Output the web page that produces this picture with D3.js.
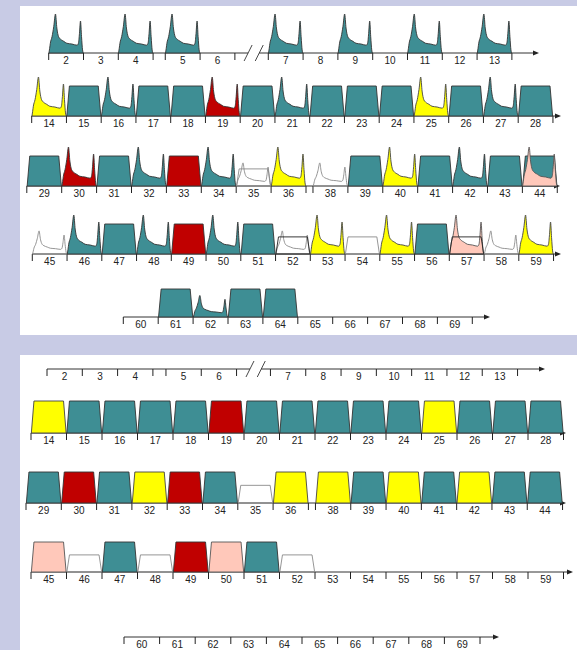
<!DOCTYPE html>
<meta charset="utf-8">
<style>
body { margin: 0; background: #c8cbe5; }
svg { display: block; }
.lbl { font: 10px "Liberation Sans Narrow", "Liberation Sans", sans-serif; fill: #222; text-anchor: middle; }
</style>
<svg width="577" height="650"></svg>
<script src="https://cdn.jsdelivr.net/npm/d3@7"></script>
<script>

// what sits on each numbered slot
// fill letter: T teal, R red, Y yellow, P pink, W white (grey line), K white (dark line)
// shape letter: p peaks, q small peaks, t block, s low block ; "+" stacks shapes
var rowA_labels = [2, 3, 4, 5, 6, 7, 8, 9, 10, 11, 12, 13];
var rowA_marks  = ["Tp", "", "Tp", "Tp", "", "Tp", "", "Tp", "", "Tp", "", "Tp"];

var rowB_labels = [14, 15, 16, 17, 18, 19, 20, 21, 22, 23, 24, 25, 26, 27, 28];
var rowB_marks  = ["Yp", "Tt", "Tp", "Tt", "Tt", "Rp", "Tt", "Tp", "Tt", "Tt", "Tt", "Yp", "Tt", "Tp", "Tt"];

var rowC_labels = [29, 30, 31, 32, 33, 34, 35, 36, 38, 39, 40, 41, 42, 43, 44];
var rowC_marks  = ["Tt", "Rp", "Tt", "Tp", "Rt", "Tp", "Wq+Ws", "Yp", "Wq", "Tt", "Yp", "Tt", "Tp", "Tt", "Tt+Pp"];

var rowD_labels = [45, 46, 47, 48, 49, 50, 51, 52, 53, 54, 55, 56, 57, 58, 59];
var rowD_marks  = ["Wq", "Tp", "Tt", "Tp", "Rt", "Tp", "Tt", "Wq+Ks", "Yp", "Ws", "Yp", "Tt", "Pp+Ks", "Wq", "Yp"];

var rowE_labels = [60, 61, 62, 63, 64, 65, 66, 67, 68, 69];
var rowE_marks  = ["", "Tt", "Tq", "Tt", "Tt", "", "", "", "", ""];

var rowF_labels = [2, 3, 4, 5, 6, 7, 8, 9, 10, 11, 12, 13];
var rowF_marks  = ["", "", "", "", "", "", "", "", "", "", "", ""];

var rowG_labels = [14, 15, 16, 17, 18, 19, 20, 21, 22, 23, 24, 25, 26, 27, 28];
var rowG_marks  = ["Yt", "Tt", "Tt", "Tt", "Tt", "Rt", "Tt", "Tt", "Tt", "Tt", "Tt", "Yt", "Tt", "Tt", "Tt"];

var rowH_labels = [29, 30, 31, 32, 33, 34, 35, 36, 38, 39, 40, 41, 42, 43, 44];
var rowH_marks  = ["Tt", "Rt", "Tt", "Yt", "Rt", "Tt", "Ws", "Yt", "Yt", "Tt", "Yt", "Tt", "Yt", "Tt", "Tt"];

var rowI_labels = [45, 46, 47, 48, 49, 50, 51, 52, 53, 54, 55, 56, 57, 58, 59];
var rowI_marks  = ["Pt", "Ws", "Tt", "Ws", "Rt", "Pt", "Tt", "Ws", "", "", "", "", "", "", ""];

var rowJ_labels = [60, 61, 62, 63, 64, 65, 66, 67, 68, 69];
var rowJ_marks  = ["", "", "", "", "", "", "", "", "", ""];

var fills = { T: "#3e8e94", R: "#c00000", Y: "#ffff00", P: "#ffc8ba", W: "none", K: "none" };
var lines = { T: "#333", R: "#333", Y: "#444", P: "#555", W: "#8a8a8a", K: "#222" };

// height of each shape, in units of a block
var levels = { p: 1.3, q: 0.77, t: 1, s: 0.57 };

// peak glyph outline (fraction across slot, fraction of height)
var peakShape = [[0,0],[0.02,0.12],[0.04,0.25],[0.09,0.42],[0.14,0.68],[0.19,1],[0.23,0.64],[0.28,0.42],
  [0.33,0.36],[0.43,0.3],[0.52,0.25],[0.67,0.23],[0.82,0.2],[0.86,0.25],[0.89,0.5],[0.92,0.82],
  [0.95,0.42],[0.98,0.08],[1,0]];

var rows = [
  { labels: rowA_labels, marks: rowA_marks, x0: 48.7, w: 34.8, y: 53,  bh: 30, gaps: {2: 0.35}, brk: 4, end: 539 },
  { labels: rowB_labels, marks: rowB_marks, x0: 31.7, w: 34.75, y: 116, bh: 30, gaps: {}, end: 561 },
  { labels: rowC_labels, marks: rowC_marks, x0: 26.8, w: 34.9, y: 186, bh: 30, gaps: {7: 0.2}, end: 560 },
  { labels: rowD_labels, marks: rowD_marks, x0: 32.3, w: 34.75, y: 254, bh: 30, gaps: {}, end: 561 },
  { labels: rowE_labels, marks: rowE_marks, x0: 123.3, w: 34.9, y: 317, bh: 28, gaps: {}, end: 490 },
  { labels: rowF_labels, marks: rowF_marks, x0: 47, w: 35.3, y: 369, bh: 31, gaps: {2: 0.37}, brk: 4, end: 545 },
  { labels: rowG_labels, marks: rowG_marks, x0: 31, w: 35.5, y: 433, bh: 32, gaps: {}, end: 566 },
  { labels: rowH_labels, marks: rowH_marks, x0: 26, w: 35.3, y: 503, bh: 31, gaps: {7: 0.2}, end: 566 },
  { labels: rowI_labels, marks: rowI_marks, x0: 31, w: 35.5, y: 572, bh: 30, gaps: {}, end: 573 },
  { labels: rowJ_labels, marks: rowJ_marks, x0: 124, w: 35.6, y: 637, bh: 30, gaps: {}, end: 499 }
];

var svg = d3.select("svg");

// white panels
svg.append("rect").attr("x", 20).attr("y", 6).attr("width", 557).attr("height", 329).attr("fill", "#fff");
svg.append("rect").attr("x", 20).attr("y", 355).attr("width", 557).attr("height", 295).attr("fill", "#fff");

rows.forEach(function(r) {
  var g = svg.append("g");
  // slot starts in slot units, with small gaps and an axis break
  var starts = [], u = 0, brkAt = null;
  r.labels.forEach(function(d, i) {
    starts.push(u);
    u += 1;
    if (r.gaps[i]) u += r.gaps[i];
    if (r.brk === i) { brkAt = u; u += 0.96; }
  });
  var x = d3.scaleLinear().domain([0, 1]).range([r.x0, r.x0 + r.w]);
  var y = d3.scaleLinear().domain([0, 1]).range([r.y, r.y - r.bh]);

  // axis line (with break)
  var axisPath = d3.path();
  if (brkAt !== null) {
    var s1 = x(brkAt + 0.38), s2 = x(brkAt + 0.7);
    axisPath.moveTo(x(0), r.y); axisPath.lineTo(s1, r.y);
    axisPath.moveTo(s2, r.y); axisPath.lineTo(r.end - 5, r.y);
    [s1, s2].forEach(function(sx) {
      g.append("line").attr("x1", sx - 4).attr("y1", r.y + 8).attr("x2", sx + 4).attr("y2", r.y - 8)
        .attr("stroke", "#333").attr("stroke-width", 0.9);
    });
  } else {
    axisPath.moveTo(x(0), r.y); axisPath.lineTo(r.end - 5, r.y);
  }
  g.append("path").attr("d", axisPath.toString()).attr("stroke", "#333").attr("stroke-width", 1).attr("fill", "none");
  g.append("path")
    .attr("d", "M" + r.end + "," + r.y + "L" + (r.end - 6) + "," + (r.y - 2.5) + "L" + (r.end - 6) + "," + (r.y + 2.5) + "Z")
    .attr("fill", "#222");

  // ticks at both ends of every slot
  var tickPos = [];
  starts.forEach(function(s) { tickPos.push(s); tickPos.push(s + 1); });
  tickPos = d3.sort(Array.from(new Set(tickPos.map(function(t) { return Math.round(t * 1000) / 1000; }))));
  g.selectAll("line.tick").data(tickPos).enter().append("line")
    .attr("x1", function(t) { return x(t); }).attr("x2", function(t) { return x(t); })
    .attr("y1", r.y).attr("y2", r.y + 7)
    .attr("stroke", "#222").attr("stroke-width", 1);

  // shapes
  var peakLine = d3.line().curve(d3.curveMonotoneX);
  r.marks.forEach(function(code, i) {
    if (!code) return;
    code.split("+").forEach(function(part) {
      var col = part[0], kind = part[1], lv = levels[kind], s = starts[i], d;
      if (kind === "p" || kind === "q") {
        d = peakLine(peakShape.map(function(p) { return [x(s + p[0] * 0.985 + 0.0075), y(p[1] * lv)]; })) + "Z";
      } else {
        var inset = 2.6 / r.w;
        d = "M" + x(s + 0.01) + "," + r.y +
            "L" + x(s + 0.01 + inset) + "," + y(lv) +
            "L" + x(s + 0.99 - inset) + "," + y(lv) +
            "L" + x(s + 0.99) + "," + r.y + "Z";
      }
      g.append("path").attr("d", d)
        .attr("fill", fills[col]).attr("stroke", lines[col]).attr("stroke-width", 0.9)
        .attr("stroke-linejoin", "round");
    });
  });

  // labels
  g.selectAll("text").data(r.labels).enter().append("text")
    .attr("class", "lbl")
    .attr("x", function(d, i) { return x(starts[i] + 0.5); })
    .attr("y", r.y + 11)
    .text(function(d) { return d; });
});

</script>
